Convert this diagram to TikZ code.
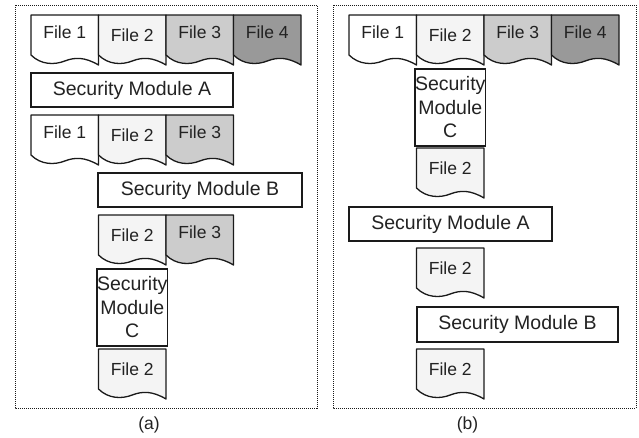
\documentclass[tikz,border=0pt]{standalone}
\usepackage{fontspec}
\setmainfont{Liberation Sans}
\definecolor{fA}{HTML}{FFFFFF}
\definecolor{fB}{HTML}{F4F4F4}
\definecolor{fC}{HTML}{CCCCCC}
\definecolor{fD}{HTML}{999999}
\definecolor{ink}{HTML}{1A1A1A}
\definecolor{txt}{HTML}{222222}
\tikzset{
 docline/.style={draw=ink, line width=1.3pt, line join=round},
 doctext/.style={text=txt, font=\fontsize{17.5}{20}\selectfont, inner sep=0pt},
 smbox/.style={draw=ink, line width=1.3pt, fill=white, text=txt, font=\fontsize{19.5}{23.5}\selectfont, inner sep=0pt, align=center},
 framebox/.style={draw=ink, line width=1pt, dash pattern=on 1pt off 1pt},
 caption/.style={text=txt, font=\fontsize{17.5}{20}\selectfont, inner sep=0pt}
}
\newcommand{\fdoc}[6]{%
 \filldraw[docline, fill=#4] (#2,#3) -- ({#2+67.5},#3) -- ({#2+67.5},{#3+50})
  .. controls ({#2+54},{#3+42}) and ({#2+44},{#3+42}) .. ({#2+33.75},{#3+46})
  .. controls ({#2+23.6},{#3+50}) and ({#2+10},{#3+50}) .. (#2,{#3+40}) -- cycle;
 \node[doctext, anchor=center] (#1) at ({#2+33.75},{#3+#6}) {#5};
}
\begin{document}
\begin{tikzpicture}[x=1pt,y=-1pt]
\useasboundingbox (0,0) rectangle (639,437);
% ---- panel (a)
\draw[framebox] (15,5) rectangle (317,408);
\fdoc{a1}{31}{15}{fA}{File 1}{17}
\fdoc{a2}{98.5}{15}{fB}{File 2}{20}
\fdoc{a3}{166}{15}{fC}{File 3}{17}
\fdoc{a4}{233.5}{15}{fD}{File 4}{17}
\node[smbox, minimum width=202pt, minimum height=34pt] (smAa) at (132,90) {Security Module A};
\fdoc{b1}{31}{115}{fA}{File 1}{17}
\fdoc{b2}{98.5}{115}{fB}{File 2}{20}
\fdoc{b3}{166}{115}{fC}{File 3}{17}
\node[smbox, minimum width=204pt, minimum height=34pt] (smBa) at (200,190) {Security Module B};
\fdoc{c2}{98.5}{215}{fB}{File 2}{20}
\fdoc{c3}{166}{215}{fC}{File 3}{17}
\node[smbox, minimum width=67.5pt, minimum height=77pt] (smCa) at (132.25,307.5) {Security\\Module\\C};
\fdoc{d2}{98.5}{349}{fB}{File 2}{20}
\node[caption] (capa) at (149,425) {(a)};
% ---- panel (b)
\draw[framebox] (333,5) rectangle (636,408);
\fdoc{e1}{349}{15}{fA}{File 1}{17}
\fdoc{e2}{416.5}{15}{fB}{File 2}{20}
\fdoc{e3}{484}{15}{fC}{File 3}{17}
\fdoc{e4}{551.5}{15}{fD}{File 4}{17}
\node[smbox, minimum width=67.5pt, minimum height=77pt] (smCb) at (450.25,107.5) {Security\\Module\\C};
\fdoc{f2}{416.5}{148}{fB}{File 2}{20}
\node[smbox, minimum width=203pt, minimum height=34pt] (smAb) at (450.5,224) {Security Module A};
\fdoc{g2}{416.5}{248}{fB}{File 2}{20}
\node[smbox, minimum width=201pt, minimum height=35pt] (smBb) at (517.5,324.5) {Security Module B};
\fdoc{h2}{416.5}{349}{fB}{File 2}{20}
\node[caption] (capb) at (467.5,425) {(b)};
\end{tikzpicture}
\end{document}
